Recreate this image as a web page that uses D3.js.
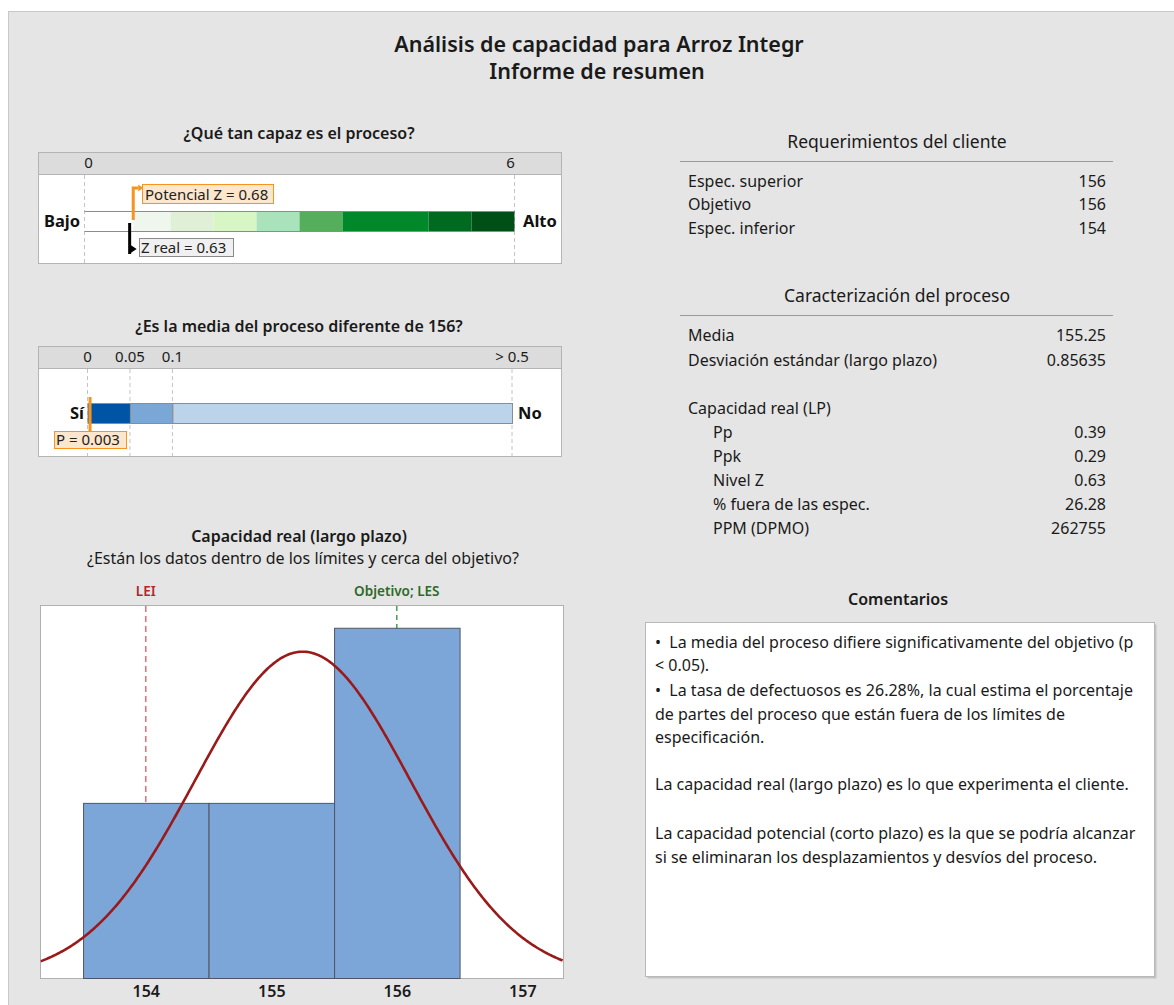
<!DOCTYPE html>
<html>
<head>
<meta charset="utf-8">
<script src="https://cdn.jsdelivr.net/npm/d3@7"></script>
<style>
  body { margin: 0; background: #ffffff; }
  svg { display: block; font-family: "Noto Sans", "Open Sans", sans-serif; }
</style>
</head>
<body>
<svg id="chart" width="1174" height="1005"></svg>
<script>
// ---- Report values ----
const reportTitle = "Análisis de capacidad para Arroz Integr";
const reportSubtitle = "Informe de resumen";

// Capability benchmark (Z scale)
const zTicks = [0, 6];
const zBandEdges = [0.68, 1.2, 1.8, 2.4, 3.0, 3.6, 4.8, 5.4, 6.0];
const zBandColors = ["#eef6ee", "#e0f0d6", "#d8f5c4", "#a9e2bb", "#54ae5c", "#00882b", "#006b1f", "#004f16"];
const zPotential = 0.68;
const zReal = 0.63;

// Mean test benchmark (p-value scale)
const pTicks = [0, 0.05, 0.1, 0.5];
const pTickLabels = ["0", "0.05", "0.1", "> 0.5"];
const pBandEdges = [0, 0.05, 0.1, 0.5];
const pBandColors = ["#0054a6", "#7ba7d7", "#bcd3ec"];
const pValue = 0.003;

// Histogram of the data
const binEdges = [153.5, 154.5, 155.5, 156.5];
const binCounts = [4, 4, 8];
const xTicks = [154, 155, 156, 157];
const sampleSize = 16;
const processMean = 155.25;
const processSd = 0.85635;
const lsl = 154, target = 156, usl = 156;

// Tables
const reqLabels = ["Espec. superior", "Objetivo", "Espec. inferior"];
const reqValues = ["156", "156", "154"];
const charLabels = ["Media", "Desviación estándar (largo plazo)"];
const charValues = ["155.25", "0.85635"];
const capHeader = "Capacidad real (LP)";
const capLabels = ["Pp", "Ppk", "Nivel Z", "% fuera de las espec.", "PPM (DPMO)"];
const capValues = ["0.39", "0.29", "0.63", "26.28", "262755"];

const commentLines = [
  { t: "•  La media del proceso difiere significativamente del objetivo (p", y: 642 },
  { t: "< 0.05).", y: 665 },
  { t: "•  La tasa de defectuosos es 26.28%, la cual estima el porcentaje", y: 690 },
  { t: "de partes del proceso que están fuera de los límites de", y: 714 },
  { t: "especificación.", y: 737 },
  { t: "La capacidad real (largo plazo) es lo que experimenta el cliente.", y: 784 },
  { t: "La capacidad potencial (corto plazo) es la que se podría alcanzar", y: 833 },
  { t: "si se eliminaran los desplazamientos y desvíos del proceso.", y: 857 }
];

const svg = d3.select("#chart");
const ink = "#1a1a1a";

// Report background
svg.append("rect").attr("x", 8.5).attr("y", 11.5).attr("width", 1180).attr("height", 1010)
  .attr("fill", "#e5e5e5").attr("stroke", "#c8c8c8");

// Titles
svg.append("text").attr("x", 599).attr("y", 52).attr("text-anchor", "middle")
  .attr("font-size", 21.5).attr("font-weight", 600).attr("fill", ink).text(reportTitle);
svg.append("text").attr("x", 597).attr("y", 79).attr("text-anchor", "middle")
  .attr("font-size", 21.5).attr("font-weight", 600).attr("fill", ink).text(reportSubtitle);

function sectionTitle(x, y, txt, size, weight) {
  svg.append("text").attr("x", x).attr("y", y).attr("text-anchor", "middle")
    .attr("font-size", size).attr("font-weight", weight).attr("fill", ink).text(txt);
}

// ---- Panel 1: Z benchmark ----
sectionTitle(299, 139, "¿Qué tan capaz es el proceso?", 16, 600);
const p1 = { x: 38, y: 152, w: 523, h: 111, head: 22 };
const zx = d3.scaleLinear().domain([0, 6]).range([84.5, 514.5]);

svg.append("rect").attr("x", p1.x + 0.5).attr("y", p1.y + 0.5).attr("width", p1.w).attr("height", p1.h)
  .attr("fill", "#ffffff").attr("stroke", "#b4b4b4");
svg.append("rect").attr("x", p1.x + 0.5).attr("y", p1.y + 0.5).attr("width", p1.w).attr("height", p1.head)
  .attr("fill", "#dcdcdc").attr("stroke", "#b4b4b4");

svg.selectAll(".zgrid").data(zTicks).enter().append("line")
  .attr("x1", d => zx(d)).attr("x2", d => zx(d))
  .attr("y1", p1.y + p1.head + 1).attr("y2", p1.y + p1.h)
  .attr("stroke", "#c4c4c4").attr("stroke-dasharray", "4,3");
svg.selectAll(".ztick").data(zTicks).enter().append("text")
  .attr("x", d => zx(d) + (d === 0 ? 4 : -4)).attr("y", 168)
  .attr("text-anchor", "middle").attr("font-size", 15).attr("font-weight", 400).attr("fill", ink)
  .text(d => d);

const zBarTop = 211, zBarBot = 231;
svg.selectAll(".zband").data(zBandColors).enter().append("rect")
  .attr("x", (d, i) => zx(zBandEdges[i])).attr("y", zBarTop)
  .attr("width", (d, i) => zx(zBandEdges[i + 1]) - zx(zBandEdges[i]))
  .attr("height", zBarBot - zBarTop).attr("fill", d => d);
[zBarTop, zBarBot].forEach(y => svg.append("line")
  .attr("x1", zx(0)).attr("x2", zx(6)).attr("y1", y + 0.5).attr("y2", y + 0.5)
  .attr("stroke", "#8c8c8c"));

svg.append("text").attr("x", 80).attr("y", 227).attr("text-anchor", "end")
  .attr("font-size", 16.5).attr("font-weight", 700).attr("fill", "#111").text("Bajo");
svg.append("text").attr("x", 523).attr("y", 227).attr("text-anchor", "start")
  .attr("font-size", 16.5).attr("font-weight", 700).attr("fill", "#111").text("Alto");

// Potential Z marker
const orange = "#f7941d";
const zpX = zx(zPotential);
svg.append("path").attr("d", `M${zpX},220 V188 H${zpX + 5}`)
  .attr("fill", "none").attr("stroke", orange).attr("stroke-width", 3);
svg.append("path").attr("d", `M${zpX + 5},184.5 L${zpX + 10},188 L${zpX + 5},191.5 Z`).attr("fill", orange);
svg.append("rect").attr("x", 142.5).attr("y", 184.5).attr("width", 131).attr("height", 19)
  .attr("fill", "#fce6cc").attr("stroke", orange);
svg.append("text").attr("x", 145).attr("y", 199.5).attr("font-size", 15).attr("fill", "#222")
  .text(`Potencial Z = ${zPotential.toFixed(2)}`);

// Real Z marker
const zrX = zx(zReal);
svg.append("line").attr("x1", zrX).attr("x2", zrX).attr("y1", 223).attr("y2", 254)
  .attr("stroke", "#000").attr("stroke-width", 3);
svg.append("path").attr("d", `M${zrX + 1},245 L${zrX + 7},249 L${zrX + 1},253 Z`).attr("fill", "#000");
svg.append("rect").attr("x", 139.5).attr("y", 238.5).attr("width", 94).attr("height", 18)
  .attr("fill", "#f0f0f0").attr("stroke", "#8a8a8a");
svg.append("text").attr("x", 141).attr("y", 253).attr("font-size", 15).attr("fill", "#222")
  .text(`Z real = ${zReal.toFixed(2)}`);

// ---- Panel 2: p-value benchmark ----
sectionTitle(299, 332, "¿Es la media del proceso diferente de 156?", 16, 600);
const p2 = { x: 38, y: 346, w: 523, h: 110, head: 22 };
const px = d3.scaleLinear().domain([0, 0.5]).range([87.5, 512]);

svg.append("rect").attr("x", p2.x + 0.5).attr("y", p2.y + 0.5).attr("width", p2.w).attr("height", p2.h)
  .attr("fill", "#ffffff").attr("stroke", "#b4b4b4");
svg.append("rect").attr("x", p2.x + 0.5).attr("y", p2.y + 0.5).attr("width", p2.w).attr("height", p2.head)
  .attr("fill", "#dcdcdc").attr("stroke", "#b4b4b4");

svg.selectAll(".pgrid").data(pTicks).enter().append("line")
  .attr("x1", d => px(d)).attr("x2", d => px(d))
  .attr("y1", p2.y + p2.head + 1).attr("y2", p2.y + p2.h)
  .attr("stroke", "#c4c4c4").attr("stroke-dasharray", "4,3");
svg.selectAll(".ptick").data(pTicks).enter().append("text")
  .attr("x", d => px(d)).attr("y", 362)
  .attr("text-anchor", "middle").attr("font-size", 15).attr("font-weight", 400).attr("fill", ink)
  .text((d, i) => pTickLabels[i]);

const pBarTop = 403, pBarBot = 423;
svg.selectAll(".pband").data(pBandColors).enter().append("rect")
  .attr("x", (d, i) => px(pBandEdges[i]) + 0.5).attr("y", pBarTop + 0.5)
  .attr("width", (d, i) => px(pBandEdges[i + 1]) - px(pBandEdges[i]))
  .attr("height", pBarBot - pBarTop).attr("fill", d => d).attr("stroke", "#8c8c8c");

svg.append("text").attr("x", 84).attr("y", 419).attr("text-anchor", "end")
  .attr("font-size", 16.5).attr("font-weight", 700).attr("fill", "#111").text("Sí");
svg.append("text").attr("x", 518).attr("y", 419).attr("text-anchor", "start")
  .attr("font-size", 16.5).attr("font-weight", 700).attr("fill", "#111").text("No");

const pvX = px(pValue);
svg.append("line").attr("x1", pvX).attr("x2", pvX).attr("y1", 397).attr("y2", 432)
  .attr("stroke", orange).attr("stroke-width", 3);
svg.append("rect").attr("x", 54.5).attr("y", 431.5).attr("width", 72).attr("height", 17)
  .attr("fill", "#fce6cc").attr("stroke", orange);
svg.append("text").attr("x", 56).attr("y", 445).attr("font-size", 15).attr("fill", "#222")
  .text(`P = ${pValue.toFixed(3)}`);

// ---- Panel 3: histogram with normal curve ----
sectionTitle(299, 542, "Capacidad real (largo plazo)", 16, 600);
sectionTitle(303, 564, "¿Están los datos dentro de los límites y cerca del objetivo?", 16, 400);

const plot = { left: 40.5, top: 605, right: 563.5, bottom: 978 };
const hx = d3.scaleLinear().domain([153.161, 157.328]).range([plot.left, plot.right]);
const hy = d3.scaleLinear().domain([0, 8.52]).range([plot.bottom, plot.top]);

svg.append("rect").attr("x", plot.left).attr("y", plot.top + 0.5)
  .attr("width", plot.right - plot.left).attr("height", plot.bottom - plot.top)
  .attr("fill", "#ffffff").attr("stroke", "#b0b0b0");

svg.append("clipPath").attr("id", "plotclip").append("rect")
  .attr("x", plot.left).attr("y", plot.top).attr("width", plot.right - plot.left)
  .attr("height", plot.bottom - plot.top);

// Spec limit reference lines (behind bars)
svg.append("line").attr("x1", hx(lsl)).attr("x2", hx(lsl)).attr("y1", plot.top + 1).attr("y2", plot.bottom)
  .attr("stroke", "#e8555a").attr("stroke-width", 1.3).attr("stroke-dasharray", "6,4");
svg.append("line").attr("x1", hx(usl)).attr("x2", hx(usl)).attr("y1", plot.top + 1).attr("y2", plot.bottom)
  .attr("stroke", "#2f8f3a").attr("stroke-width", 1.3).attr("stroke-dasharray", "5,4");

svg.append("text").attr("x", hx(lsl)).attr("y", 596).attr("text-anchor", "middle")
  .attr("font-size", 13.5).attr("font-weight", 600).attr("fill", "#b0282a").text("LEI");
svg.append("text").attr("x", hx(target)).attr("y", 596).attr("text-anchor", "middle")
  .attr("font-size", 13.5).attr("font-weight", 600).attr("fill", "#2e6a2a").text("Objetivo; LES");

svg.selectAll(".bin").data(binCounts).enter().append("rect")
  .attr("x", (d, i) => hx(binEdges[i]) + 0.5).attr("y", d => hy(d) + 0.5)
  .attr("width", (d, i) => hx(binEdges[i + 1]) - hx(binEdges[i]))
  .attr("height", d => hy(0) - hy(d))
  .attr("fill", "#7ca6d8").attr("stroke", "#4f5566").attr("stroke-width", 1);

// Fitted normal curve scaled to counts
const binWidth = binEdges[1] - binEdges[0];
const pdf = x => Math.exp(-0.5 * ((x - processMean) / processSd) ** 2) / (processSd * Math.sqrt(2 * Math.PI));
const curveXs = d3.range(153.161, 157.33, 0.01);
svg.append("path").datum(curveXs)
  .attr("clip-path", "url(#plotclip)")
  .attr("d", d3.line().x(d => hx(d)).y(d => hy(pdf(d) * sampleSize * binWidth)))
  .attr("fill", "none").attr("stroke", "#9a1a1a").attr("stroke-width", 2.6);

svg.append("g").attr("transform", `translate(0,${plot.bottom})`)
  .call(d3.axisBottom(hx).tickValues(xTicks).tickSize(0).tickPadding(8).tickFormat(d3.format("d")))
  .call(g => g.select(".domain").remove())
  .call(g => g.selectAll("text").attr("font-size", 16).attr("font-weight", 600)
    .attr("fill", ink).attr("font-family", "'Noto Sans', sans-serif"));

// ---- Right side tables ----
const tblLeft = 688, tblRight = 1106, tblIndent = 713;
sectionTitle(897, 148, "Requerimientos del cliente", 17.5, 400);
svg.append("line").attr("x1", 680).attr("x2", 1113).attr("y1", 161.5).attr("y2", 161.5).attr("stroke", "#9a9a9a");
const reqY = [187, 210, 234];
reqLabels.forEach((l, i) => {
  svg.append("text").attr("x", tblLeft).attr("y", reqY[i]).attr("font-size", 16).attr("fill", ink).text(l);
  svg.append("text").attr("x", tblRight).attr("y", reqY[i]).attr("text-anchor", "end")
    .attr("font-size", 16).attr("fill", ink).text(reqValues[i]);
});

sectionTitle(897, 302, "Caracterización del proceso", 17.5, 400);
svg.append("line").attr("x1", 680).attr("x2", 1113).attr("y1", 315.5).attr("y2", 315.5).attr("stroke", "#9a9a9a");
const charY = [341, 366];
charLabels.forEach((l, i) => {
  svg.append("text").attr("x", tblLeft).attr("y", charY[i]).attr("font-size", 16).attr("fill", ink).text(l);
  svg.append("text").attr("x", tblRight).attr("y", charY[i]).attr("text-anchor", "end")
    .attr("font-size", 16).attr("fill", ink).text(charValues[i]);
});
svg.append("text").attr("x", tblLeft).attr("y", 414).attr("font-size", 16).attr("fill", ink).text(capHeader);
capLabels.forEach((l, i) => {
  const y = 438 + i * 24;
  svg.append("text").attr("x", tblIndent).attr("y", y).attr("font-size", 16).attr("fill", ink).text(l);
  svg.append("text").attr("x", tblRight).attr("y", y).attr("text-anchor", "end")
    .attr("font-size", 16).attr("fill", ink).text(capValues[i]);
});

// ---- Comments ----
sectionTitle(898, 605, "Comentarios", 16, 600);
svg.append("rect").attr("x", 647.5).attr("y", 624.5).attr("width", 509).attr("height", 354).attr("fill", "#c4c4c4");
svg.append("rect").attr("x", 645.5).attr("y", 622.5).attr("width", 509).attr("height", 354)
  .attr("fill", "#ffffff").attr("stroke", "#b8b8b8");
svg.selectAll(".comment").data(commentLines).enter().append("text")
  .attr("x", 655).attr("y", d => d.y + 6).attr("font-size", 16).attr("fill", ink)
  .attr("xml:space", "preserve").style("white-space", "pre").text(d => d.t);
</script>
</body>
</html>
